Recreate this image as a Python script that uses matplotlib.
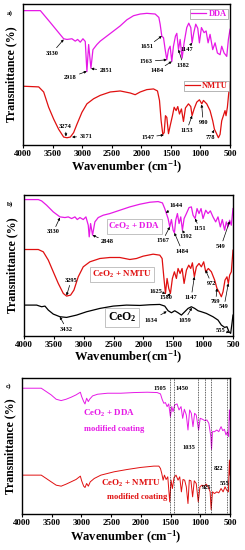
import matplotlib
matplotlib.use("Agg")
import matplotlib.pyplot as plt

plt.rcParams['font.family'] = ['Liberation Serif', 'DejaVu Serif']
plt.rcParams['font.weight'] = 'bold'
plt.rcParams['mathtext.fontset'] = 'custom'
plt.rcParams['mathtext.rm'] = 'Liberation Serif:bold'
plt.rcParams['mathtext.bf'] = 'Liberation Serif:bold'
plt.rcParams['mathtext.it'] = 'Liberation Serif:bold'

MAG = '#e619e6'
RED = '#e01010'

# ---------------- data (wavenumber cm-1, transmittance a.u.) ----------------
# panel a
dda_wn = [4000, 3707, 3539, 3398, 3313, 3257, 3173, 3117, 3077, 3032, 2987, 2948, 2920, 2891, 2852,
          2818, 2751, 2695, 2582, 2469, 2357, 2244, 2132, 2019, 1907, 1766, 1704, 1682, 1654, 1625,
          1597, 1569, 1541, 1513, 1485, 1457, 1423, 1400, 1372, 1344, 1310, 1277, 1232, 1198, 1164,
          1142, 1113, 1080, 1046, 1018, 984, 939, 905, 871, 838, 793, 753, 714, 669, 641, 601, 556,
          528, 500]
dda_t = [397, 397, 362, 332, 314, 312, 314, 307, 312, 304, 314, 306, 217, 297, 227,
         282, 297, 307, 322, 337, 352, 370, 382, 387, 389, 387, 377, 357, 322, 317,
         282, 252, 282, 292, 247, 292, 322, 330, 282, 312, 257, 302, 347, 360, 347,
         302, 332, 357, 345, 302, 347, 332, 337, 302, 327, 282, 302, 272, 267, 292, 272, 262,
         312, 342]

nmtu_wn = [4000, 3735, 3651, 3567, 3482, 3398, 3313, 3257, 3201, 3145, 3088, 3004, 2920, 2807, 2695,
           2526, 2357, 2188, 2104, 2019, 1907, 1794, 1727, 1693, 1665, 1637, 1614, 1592, 1569, 1541,
           1513, 1474, 1445, 1412, 1384, 1355, 1322, 1288, 1254, 1203, 1164, 1142, 1108, 1063, 1018,
           978, 950, 894, 838, 793, 764, 736, 697, 669, 641, 613, 585, 568, 545, 523, 500]
nmtu_t = [174, 172, 157, 112, 77, 47, 24, 22, 24, 37, 62, 97, 122, 137, 147,
          157, 160, 154, 149, 157, 164, 166, 160, 132, 72, 32, 37, 87, 82, 34,
          57, 87, 112, 102, 114, 92, 107, 70, 110, 122, 114, 87, 107, 127, 134,
          122, 132, 122, 102, 72, 47, 37, 22, 32, 72, 87, 102, 87, 112, 152, 187]

# panel b
cdda_wn = [4000, 3760, 3705, 3621, 3510, 3398, 3314, 3259, 3203, 3147, 3108, 3064, 3008, 2963, 2924,
           2908, 2885, 2852, 2813, 2757, 2674, 2562, 2395, 2228, 2061, 1893, 1754, 1682, 1643, 1615,
           1587, 1559, 1531, 1503, 1481, 1459, 1431, 1403, 1375, 1347, 1319, 1280, 1236, 1197, 1169,
           1135, 1102, 1069, 1035, 1002, 957, 918, 879, 835, 790, 751, 712, 679, 640, 612, 584, 556,
           528, 500]
cdda_t = [410, 410, 406, 393, 373, 358, 356, 358, 353, 358, 350, 356, 350, 358, 333,
          298, 338, 303, 343, 356, 363, 368, 378, 388, 396, 402, 404, 400, 383, 368,
          353, 328, 350, 318, 310, 348, 368, 338, 358, 318, 353, 368, 386, 388, 363,
          353, 383, 368, 383, 353, 378, 368, 376, 358, 343, 358, 328, 350, 318, 343, 328, 348,
          333, 383]

cnmtu_wn = [4000, 3760, 3677, 3593, 3510, 3426, 3342, 3287, 3220, 3164, 3092, 3008, 2897, 2729, 2562,
            2395, 2228, 2116, 2005, 1838, 1726, 1687, 1659, 1631, 1604, 1576, 1548, 1515, 1481, 1448,
            1420, 1386, 1353, 1319, 1280, 1241, 1208, 1180, 1147, 1113, 1069, 1030, 991, 957, 913,
            862, 807, 768, 735, 695, 667, 634, 601, 578, 556, 528, 500]
cnmtu_t = [260, 260, 253, 228, 193, 158, 128, 120, 123, 138, 178, 208, 223, 233, 236,
           236, 230, 233, 240, 246, 243, 233, 178, 128, 173, 143, 128, 173, 193, 173,
           203, 188, 203, 158, 198, 213, 203, 220, 178, 208, 218, 208, 223, 193, 203,
           193, 168, 143, 133, 118, 133, 168, 178, 158, 183, 193, 258]

ceo2_wn = [4000, 3788, 3705, 3649, 3593, 3510, 3398, 3287, 3119, 2952, 2729, 2506, 2284, 2061, 1893,
           1726, 1643, 1587, 1531, 1476, 1420, 1364, 1308, 1253, 1197, 1141, 1085, 1030, 946, 835,
           751, 695, 640, 601, 567, 539, 517, 500]
ceo2_t = [93, 93, 88, 90, 78, 66, 58, 56, 63, 73, 83, 90, 93, 92, 94,
          95, 90, 76, 70, 76, 70, 63, 73, 83, 88, 83, 76, 73, 68, 58,
          48, 33, 26, 28, 13, 8, 38, 63]

# panel c
mdda_wn = [4000, 3677, 3593, 3510, 3426, 3342, 3259, 3175, 3092, 3019, 2997, 2963, 2941, 2913, 2885,
           2863, 2813, 2729, 2562, 2339, 2116, 1893, 1726, 1671, 1643, 1615, 1587, 1559, 1532, 1504,
           1481, 1459, 1431, 1392, 1359, 1325, 1297, 1269, 1236, 1208, 1180, 1152, 1124, 1096, 1069,
           1030, 1002, 963, 924, 890, 857, 823, 812, 796, 762, 723, 690, 651, 623, 595, 568, 545,
           523, 511, 500]
mdda_t = [377, 377, 367, 357, 344, 340, 344, 350, 357, 365, 352, 337, 330, 347, 337,
          344, 354, 359, 362, 362, 364, 365, 364, 360, 344, 332, 334, 322, 330, 292,
          322, 307, 327, 330, 312, 322, 287, 314, 297, 252, 312, 302, 262, 302, 297,
          252, 287, 284, 280, 282, 272, 232, 194, 247, 247, 252, 247, 262, 250, 254, 237, 247,
          232, 312, 282]

mnmtu_wn = [4000, 3677, 3593, 3510, 3426, 3342, 3259, 3175, 3092, 3019, 2997, 2963, 2941, 2913, 2885,
            2852, 2785, 2674, 2451, 2228, 2005, 1782, 1698, 1671, 1649, 1626, 1604, 1576, 1548, 1515,
            1493, 1470, 1442, 1409, 1375, 1347, 1319, 1292, 1264, 1236, 1208, 1186, 1158, 1130, 1102,
            1069, 1035, 1007, 974, 935, 902, 868, 835, 818, 796, 762, 723, 690, 651, 617, 584, 556,
            528, 511, 500]
mnmtu_t = [117, 117, 107, 97, 87, 84, 90, 97, 104, 114, 100, 84, 80, 92, 84,
           97, 107, 117, 127, 134, 140, 144, 144, 137, 122, 102, 117, 104, 112, 37,
           102, 77, 110, 117, 102, 112, 67, 104, 102, 82, 32, 102, 100, 52, 100,
           92, 37, 82, 87, 84, 90, 82, 67, 14, 67, 62, 67, 64, 77, 67, 82, 72,
           67, 162, 117]

dashed_wn = [1505, 1450, 1035, 925, 822, 555]
xticks = [4000, 3500, 3000, 2500, 2000, 1500, 1000, 500]

# ---------------- figure ----------------
fig = plt.figure(figsize=(2.45, 5.5), dpi=100)
axa = fig.add_axes([0.094, 0.736, 0.845, 0.257])
axb = fig.add_axes([0.098, 0.389, 0.853, 0.256])
axc = fig.add_axes([0.090, 0.065, 0.849, 0.248])


def style(ax, ymax):
    ax.set_xlim(4000, 500)
    ax.set_ylim(0, ymax)
    ax.set_xticks(xticks)
    ax.set_yticks([])
    ax.tick_params(axis='x', direction='out', length=2, width=0.8, pad=1.5, labelsize=6.5)
    for lab in ax.get_xticklabels():
        lab.set_fontweight('bold')
    for s in ax.spines.values():
        s.set_linewidth(1.0)


LW = 0.9
ARW = dict(arrowstyle='-|>', lw=0.5, color='black', mutation_scale=3.5, shrinkA=0, shrinkB=0)


def ann(ax, txt, xy, xytext, fs=4.6):
    ax.annotate(txt, xy=xy, xytext=xytext, fontsize=fs, fontweight='bold',
                ha='center', va='center', arrowprops=ARW)


# ----- panel a -----
style(axa, 417)
la, = axa.plot(dda_wn, dda_t, color=MAG, lw=LW)
lb, = axa.plot(nmtu_wn, nmtu_t, color=RED, lw=LW)
leg1 = axa.legend([la], ['DDA'], loc='upper right', bbox_to_anchor=(0.99, 0.965), fontsize=6,
                  frameon=True, fancybox=False, edgecolor='#999999', framealpha=1, borderpad=0.15,
                  handlelength=1.8, handletextpad=0.3, labelcolor=MAG, borderaxespad=0)
leg1.get_frame().set_linewidth(0.5)
axa.add_artist(leg1)
leg2 = axa.legend([lb], ['NMTU'], loc='upper right', bbox_to_anchor=(0.997, 0.455), fontsize=6,
                  frameon=True, fancybox=False, edgecolor='#999999', framealpha=1, borderpad=0.15,
                  handlelength=1.8, handletextpad=0.3, labelcolor=RED, borderaxespad=0)
leg2.get_frame().set_linewidth(0.5)
for t in leg1.get_texts() + leg2.get_texts():
    t.set_fontweight('bold')

ann(axa, '3330', (3313, 312), (3510, 272))
ann(axa, '2918', (2922, 218), (3201, 200))
ann(axa, '2851', (2850, 226), (2600, 220))
ann(axa, '1651', (1654, 322), (1900, 290))
ann(axa, '1563', (1569, 252), (1920, 247))
ann(axa, '1484', (1485, 247), (1738, 219))
ann(axa, '1382', (1372, 282), (1290, 236))
ann(axa, '1147', (1142, 302), (1232, 282))
ann(axa, '3274', (3274, 26), (3280, 54))
ann(axa, '3171', (3171, 24), (2940, 26))
ann(axa, '1547', (1620, 30), (1895, 24))
ann(axa, '1153', (1142, 87), (1232, 44))
ann(axa, '980', (980, 120), (955, 67))
ann(axa, '778', (770, 45), (830, 24))
axa.set_xlabel('Wavenumber (cm$^{-1}$)', fontsize=9, fontweight='bold', labelpad=1)
axa.set_ylabel('Transmittance (%)', fontsize=8.5, fontweight='bold', labelpad=4)
axa.text(-0.05, 0.935, 'a)', transform=axa.transAxes, fontsize=5, fontweight='bold',
         ha='right', va='center')

# ----- panel b -----
style(axb, 423)
axb.plot(cdda_wn, cdda_t, color=MAG, lw=LW)
axb.plot(cnmtu_wn, cnmtu_t, color=RED, lw=LW)
axb.plot(ceo2_wn, ceo2_t, color='black', lw=LW)
box = dict(boxstyle='square,pad=0.2', facecolor='none', edgecolor='#aaaaaa', lw=0.5)
axb.text(2150, 329, 'CeO$_{2}$ + DDA', color=MAG, fontsize=6.5, fontweight='bold',
         ha='center', va='center', bbox=box)
axb.text(2362, 185, 'CeO$_{2}$ + NMTU', color=RED, fontsize=6.5, fontweight='bold',
         ha='center', va='center', bbox=box)
axb.text(2356, 56, 'CeO$_{2}$', color='black', fontsize=8.5, fontweight='bold',
         ha='center', va='center', bbox=box)

ann(axb, '3330', (3398, 356), (3510, 313))
ann(axb, '2848', (2852, 303), (2600, 283))
ann(axb, '1644', (1625, 370), (1445, 392))
ann(axb, '1567', (1559, 328), (1680, 286))
ann(axb, '1484', (1481, 310), (1350, 255))
ann(axb, '1392', (1347, 318), (1285, 298))
ann(axb, '1151', (1135, 353), (1060, 323))
ann(axb, '549', (556, 345), (700, 270))
ann(axb, '3295', (3287, 122), (3210, 168))
ann(axb, '1625', (1631, 128), (1790, 135))
ann(axb, '1550', (1548, 128), (1620, 115))
ann(axb, '1147', (1147, 178), (1200, 116))
ann(axb, '972', (960, 198), (860, 158))
ann(axb, '769', (768, 143), (790, 103))
ann(axb, '549', (578, 158), (650, 88))
ann(axb, '3432', (3400, 58), (3287, 21))
ann(axb, '1634', (1610, 74), (1866, 48))
ann(axb, '1059', (1190, 85), (1308, 48))
ann(axb, '555', (560, 10), (700, 18))
axb.set_xlabel('Wavenumber(cm$^{-1}$)', fontsize=9, fontweight='bold', labelpad=0)
axb.set_ylabel('Transmittance (%)', fontsize=8.5, fontweight='bold', labelpad=4)
axb.text(-0.05, 0.94, 'b)', transform=axb.transAxes, fontsize=5, fontweight='bold',
         ha='right', va='center')

# ----- panel c -----
style(axc, 408)
axc.plot(mdda_wn, mdda_t, color=MAG, lw=0.7)
axc.plot(mnmtu_wn, mnmtu_t, color=RED, lw=0.7)
for w in dashed_wn:
    axc.axvline(w, color='black', lw=0.5, ls=(0, (1.2, 1.2)))
axc.text(2534, 302, 'CeO$_{2}$ + DDA', color=MAG, fontsize=6.5, fontweight='bold', ha='center', va='center')
axc.text(2451, 255, 'modified coating', color=MAG, fontsize=6, fontweight='bold', ha='center', va='center')
axc.text(2172, 92, 'CeO$_{2}$ + NMTU', color=RED, fontsize=6.5, fontweight='bold', ha='center', va='center')
axc.text(2061, 52, 'modified coating', color=RED, fontsize=6, fontweight='bold', ha='center', va='center')
for txt, x, y in [('1505', 1672, 375), ('1450', 1312, 375), ('1035', 1186, 201),
                  ('822', 700, 137), ('925', 900, 81), ('555', 590, 93)]:
    axc.text(x, y, txt, fontsize=4.6, fontweight='bold', ha='center', va='center')
axc.set_xlabel('Wavenumber (cm$^{-1}$)', fontsize=9, fontweight='bold', labelpad=1)
axc.set_ylabel('Transmittance (%)', fontsize=8.5, fontweight='bold', labelpad=4)
axc.text(-0.05, 0.94, 'c)', transform=axc.transAxes, fontsize=5, fontweight='bold',
         ha='right', va='center')

fig.savefig('out.png', dpi=100)
